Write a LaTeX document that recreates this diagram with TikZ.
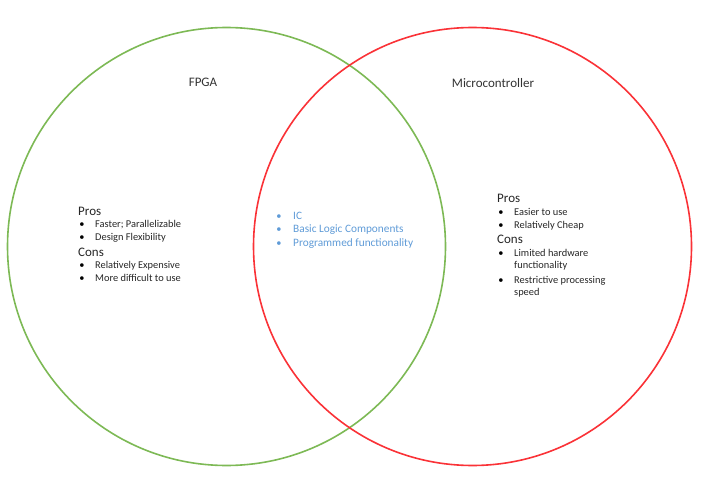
\documentclass[tikz,border=0pt]{standalone}
\usepackage{fontspec}
\setmainfont{Carlito}
\definecolor{fpgagreen}{RGB}{125,185,85}
\definecolor{mcured}{RGB}{250,50,55}
\definecolor{sharedblue}{RGB}{95,155,215}
\tikzset{
	ring/.style={circle, line width=1.6pt, minimum size=438pt, inner sep=0pt},
	title/.style={font=\fontsize{13}{15}\selectfont, text=black!80},
	head/.style={anchor=base west, inner sep=0pt, font=\fontsize{13}{15}\selectfont, text=black!85},
	item/.style={anchor=base west, inner sep=0pt, font=\fontsize{10.4}{12}\selectfont, text=black!85},
	shared/.style={anchor=base west, inner sep=0pt, font=\fontsize{11.3}{13}\selectfont, text=sharedblue},
	dot/.style={anchor=base, inner sep=0pt, font=\fontsize{10.4}{12}\selectfont, text=black}
}
\begin{document}
\begin{tikzpicture}[x=1pt,y=-1pt]
					\useasboundingbox (0,0) rectangle (709,481);
					\node[ring, draw=fpgagreen] (fpga) at (226.5,246.5) {};
					\node[ring, draw=mcured] (mcu) at (472.5,246.5) {};
					\node[title] (tfpga) at (203,82) {FPGA};
					\node[title] (tmcu) at (493,83) {Microcontroller};
					% left
					\node[head] (lpros) at (78,215) {Pros};
					\node[dot] (lb1) at (82,227) {•};
					\node[item] (l1) at (95,227) {Faster; Parallelizable};
					\node[dot] (lb2) at (82,240) {•};
					\node[item] (l2) at (95,240) {Design Flexibility};
					\node[head] (lcons) at (78,256) {Cons};
					\node[dot] (lb3) at (82,268) {•};
					\node[item] (l3) at (95,268) {Relatively Expensive};
					\node[dot] (lb4) at (82,281) {•};
					\node[item] (l4) at (95,281) {More difficult to use};
					% middle
					\node[dot, text=sharedblue] (mb1) at (279,219) {•};
					\node[shared] (m1) at (293,219) {IC};
					\node[dot, text=sharedblue] (mb2) at (279,232) {•};
					\node[shared] (m2) at (293,232) {Basic Logic Components};
					\node[dot, text=sharedblue] (mb3) at (279,246) {•};
					\node[shared] (m3) at (293,246) {Programmed functionality};
					% right
					\node[head] (rpros) at (497,203) {Pros};
					\node[dot] (rb1) at (501,215) {•};
					\node[item] (r1) at (514,215) {Easier to use};
					\node[dot] (rb2) at (501,228) {•};
					\node[item] (r2) at (514,228) {Relatively Cheap};
					\node[head] (rcons) at (497,243) {Cons};
					\node[dot] (rb3) at (501,256) {•};
					\node[item] (r3) at (514,256) {Limited hardware};
					\node[item] (r3b) at (514,268) {functionality};
					\node[dot] (rb4) at (501,283) {•};
					\node[item] (r4) at (514,283) {Restrictive processing};
					\node[item] (r4b) at (514,295) {speed};
				\end{tikzpicture}
\end{document}
